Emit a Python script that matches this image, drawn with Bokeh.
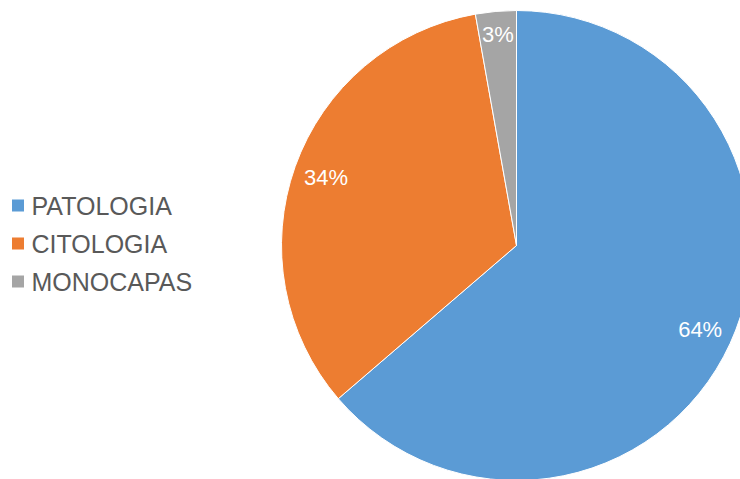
import math
from bokeh.plotting import figure
from bokeh.models import ColumnDataSource, Range1d
from bokeh.core.properties import value
from bokeh.embed import file_html
from bokeh.resources import INLINE

# ---- data ----
categories = ["PATOLOGIA", "CITOLOGIA", "MONOCAPAS"]
shares = [63.7, 33.5, 2.8]
colors = ["#5B9BD5", "#ED7D31", "#A5A5A5"]

# ---- figure (data units = screen pixels, y up) ----
W, H = 740, 479
p = figure(width=W, height=H, x_range=Range1d(0, W), y_range=Range1d(0, H),
           output_backend="svg", toolbar_location=None, min_border=0)
p.axis.visible = False
p.grid.visible = False
p.outline_line_color = None
p.background_fill_color = "white"
p.border_fill_color = "white"

cx, cy, R = 516, 234, 235
total = sum(shares)
starts, ends, lx, ly, labels = [], [], [], [], []
cum = 0.0
for s in shares:
    f0 = cum / total
    cum += s
    f1 = cum / total
    a0 = math.pi / 2 - 2 * math.pi * f0
    a1 = math.pi / 2 - 2 * math.pi * f1
    starts.append(a0)
    ends.append(a1)
    mid = (a0 + a1) / 2
    rr = (0.86 if f1 - f0 > 0.1 else 0.9) * R
    lx.append(cx + rr * math.cos(mid))
    ly.append(cy + rr * math.sin(mid))
    labels.append(f"{round(s / total * 100)}%")

src = ColumnDataSource(dict(start=starts, end=ends, color=colors, lx=lx, ly=ly,
                            label=labels, cat=categories))
p.wedge(x=cx, y=cy, radius=R, start_angle="start", end_angle="end",
        direction="clock", fill_color="color", line_color="white", line_width=1,
        source=src)
p.text(x="lx", y="ly", text="label", source=src, text_color="white",
       text_font=value("Liberation Sans"), text_font_size="22px",
       text_align="center", text_baseline="middle")

# ---- legend ----
leg_y = [274 - 38 * i for i in range(len(categories))]
lsrc = ColumnDataSource(dict(y=leg_y, color=colors, cat=categories))
p.scatter(x=17.5, y="y", marker="square", size=12, fill_color="color",
          line_color=None, source=lsrc)
p.text(x=31, y="y", text="cat", source=lsrc, text_color="#595959",
       text_font=value("Liberation Sans"), text_font_size="25px",
       text_align="left", text_baseline="middle")

open("out.html", "w").write(file_html(p, INLINE))
